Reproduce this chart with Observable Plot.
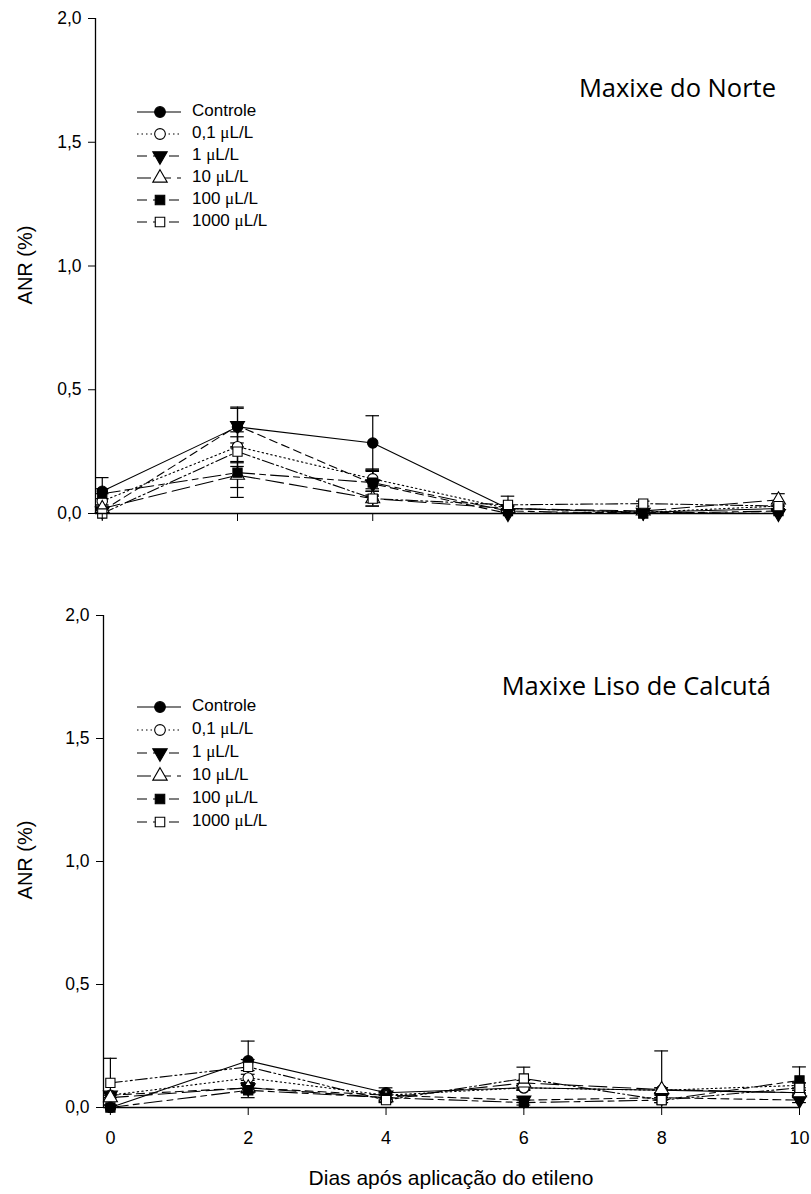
<!DOCTYPE html>
<html><head><meta charset="utf-8">
<script src="https://cdn.jsdelivr.net/npm/d3@7"></script>
<script src="https://cdn.jsdelivr.net/npm/@observablehq/plot@0.6"></script>
<style>
body{margin:0;background:#fff;}
#wrap{width:811px;height:1194px;overflow:hidden;}
#wrap svg{display:block;}
</style></head><body><div id="wrap"></div>
<script>
// ---- data ----
const days = [0, 2, 4, 6, 8, 10];
const seriesLabels = ["Controle", "0,1", "1", "10", "100", "1000"];
const yTicks = [0, 0.5, 1, 1.5, 2];
const xTicks = [0, 2, 4, 6, 8, 10];

// Maxixe do Norte
const norteControle = [0.09, 0.35, 0.285, 0.02, 0.005, 0.02];
const norte01       = [0.05, 0.27, 0.14, 0.02, 0.005, 0.03];
const norte1        = [0.01, 0.355, 0.12, 0.0, 0.005, 0.0];
const norte10       = [0.02, 0.155, 0.06, 0.02, 0.01, 0.055];
const norte100      = [0.08, 0.165, 0.125, 0.01, 0.0, 0.01];
const norte1000     = [0.0, 0.25, 0.06, 0.035, 0.04, 0.03];
const norteErrControle = [0.055, 0.08, 0.11, 0.01, 0.005, 0.01];
const norteErr01       = [0.03, 0.06, 0.04, 0.01, 0.005, 0.01];
const norteErr1        = [0.01, 0.07, 0.05, 0.01, 0.005, 0.01];
const norteErr10       = [0.01, 0.05, 0.03, 0.01, 0.005, 0.025];
const norteErr100      = [0.02, 0.1, 0.05, 0.01, 0.005, 0.01];
const norteErr1000     = [0.01, 0.06, 0.03, 0.035, 0.01, 0.01];

// Maxixe Liso de Calcutá
const lisoControle = [0.0, 0.19, 0.06, 0.08, 0.07, 0.06];
const liso01       = [0.05, 0.12, 0.05, 0.08, 0.07, 0.09];
const liso1        = [0.05, 0.08, 0.05, 0.03, 0.04, 0.03];
const liso10       = [0.04, 0.08, 0.04, 0.10, 0.073, 0.06];
const liso100      = [0.0, 0.07, 0.04, 0.02, 0.03, 0.11];
const liso1000     = [0.10, 0.165, 0.03, 0.118, 0.03, 0.08];
const lisoErrControle = [0.01, 0.08, 0.02, 0.01, 0.01, 0.01];
const lisoErr01       = [0.01, 0.03, 0.01, 0.01, 0.01, 0.01];
const lisoErr1        = [0.01, 0.02, 0.01, 0.01, 0.01, 0.01];
const lisoErr10       = [0.01, 0.02, 0.01, 0.01, 0.157, 0.01];
const lisoErr100      = [0.01, 0.03, 0.01, 0.01, 0.01, 0.055];
const lisoErr1000     = [0.10, 0.03, 0.01, 0.046, 0.01, 0.02];

// ---- styles ----
const triangleDown = {
  draw(context, size) {
    const y = -Math.sqrt(size / (Math.sqrt(3) * 3));
    context.moveTo(0, -2 * y);
    context.lineTo(-Math.sqrt(3) * y, y);
    context.lineTo(Math.sqrt(3) * y, y);
    context.closePath();
  }
};
const styles = [
  {symbol: "circle", fill: "black", dash: null, d3sym: d3.symbolCircle},
  {symbol: "circle", fill: "white", dash: "1.5,3", d3sym: d3.symbolCircle},
  {symbol: triangleDown, fill: "black", dash: "8,5", d3sym: triangleDown},
  {symbol: "triangle", fill: "white", dash: "18,6", d3sym: d3.symbolTriangle},
  {symbol: "square", fill: "black", dash: "18,5,6,5", d3sym: d3.symbolSquare},
  {symbol: "square", fill: "white", dash: "12,3,2,3,2,3", d3sym: d3.symbolSquare}
];

const FONT = "'Liberation Sans', Arial, sans-serif";
const fmt = d => d.toFixed(1).replace(".", ",");

function panel(o) {
  const marks = [];
  o.values.forEach((vals, i) => {
    const rows = days.map((d, j) => ({day: d, v: vals[j], e: o.errs[i][j]}));
    marks.push(Plot.line(rows, {x: "day", y: "v", stroke: "black", strokeWidth: 1.1,
      strokeDasharray: styles[i].dash || undefined}));
  });
  o.values.forEach((vals, i) => {
    const rows = days.map((d, j) => ({day: d, v: vals[j], e: o.errs[i][j]}));
    marks.push(Plot.ruleX(rows, {x: "day", y1: r => Math.max(0, r.v - r.e), y2: r => r.v + r.e, stroke: "black", strokeWidth: 1.2}));
    marks.push(Plot.ruleY(rows, {y: r => r.v + r.e, x1: r => r.day - 0.1, x2: r => r.day + 0.1, stroke: "black", strokeWidth: 1.2}));
    marks.push(Plot.ruleY(rows.filter(r => r.v - r.e > 0.003), {y: r => r.v - r.e, x1: r => r.day - 0.1, x2: r => r.day + 0.1, stroke: "black", strokeWidth: 1.2}));
  });
  o.values.forEach((vals, i) => {
    const rows = days.map((d, j) => ({day: d, v: vals[j]}));
    marks.push(Plot.dot(rows, {x: "day", y: "v", symbol: styles[i].symbol, r: 5.2,
      fill: styles[i].fill, stroke: "black", strokeWidth: 1.1}));
  });
  marks.push(Plot.ruleY([0], {stroke: "black", strokeWidth: 1.3}));
  marks.push(Plot.ruleX([o.xDomain[0]], {stroke: "black", strokeWidth: 1.3}));
  marks.push(Plot.axisY({ticks: yTicks, tickFormat: fmt, tickSize: 7, tickPadding: 7, label: null, fontSize: 17.5}));
  marks.push(Plot.axisX({ticks: xTicks, tickSize: 8, tickPadding: 16, label: null, fontSize: 18,
    tickFormat: o.xLabels ? (d => String(d)) : (() => "")}));

  const svg = Plot.plot({
    width: 811, height: o.height,
    marginTop: o.mt, marginBottom: o.mb, marginLeft: o.ml, marginRight: o.mr,
    x: {domain: o.xDomain},
    y: {domain: [0, 2]},
    style: {fontFamily: FONT, fontSize: "17px", color: "black", background: "white"},
    marks
  });

  const s = d3.select(svg);
  // y label
  s.append("text").attr("transform", `translate(${o.yLabelX},${o.yLabelY}) rotate(-90)`)
    .attr("text-anchor", "middle").attr("font-family", FONT).attr("font-size", 20)
    .attr("dominant-baseline", "middle").text("ANR (%)");
  // title
  s.append("text").attr("x", o.titleX).attr("y", o.titleY).attr("text-anchor", "end")
    .attr("font-family", "'Open Sans', Lato, sans-serif").attr("font-size", 25.5)
    .attr("dominant-baseline", "middle").text(o.title);
  // legend
  const lg = s.append("g").attr("text-anchor", "start");
  seriesLabels.forEach((lab, i) => {
    const y = o.legY + i * o.legStep;
    lg.append("line").attr("x1", 137).attr("x2", 181).attr("y1", y).attr("y2", y)
      .attr("stroke", "black").attr("stroke-width", 1.1)
      .attr("stroke-dasharray", i === 0 ? null : (i === 1 ? "1.5,3" : (i === 3 ? "14,6" : "10,6")));
    lg.append("path").attr("transform", `translate(160,${y})`)
      .attr("d", d3.symbol(styles[i].d3sym, 90)())
      .attr("fill", styles[i].fill).attr("stroke", "black").attr("stroke-width", 1.1);
    const t = lg.append("text").attr("x", 192).attr("y", y).attr("dominant-baseline", "middle")
      .attr("text-anchor", "start").attr("font-family", FONT).attr("font-size", 17);
    if (i === 0) t.text(lab);
    else {
      t.append("tspan").text(lab + " ");
      t.append("tspan").attr("font-family", "'Liberation Serif', serif").text("μ");
      t.append("tspan").text("L/L");
    }
  });
  if (o.xTitle) {
    s.append("text").attr("x", 451).attr("y", o.xTitleY).attr("text-anchor", "middle")
      .attr("font-family", FONT).attr("font-size", 21).attr("dominant-baseline", "middle")
      .text(o.xTitle);
  }
  return svg;
}

const wrap = document.getElementById("wrap");
wrap.appendChild(panel({
  values: [norteControle, norte01, norte1, norte10, norte100, norte1000],
  errs: [norteErrControle, norteErr01, norteErr1, norteErr10, norteErr100, norteErr1000],
  title: "Maxixe do Norte", titleX: 776, titleY: 90,
  height: 560, mt: 18, mb: 47, ml: 95, mr: 31, xDomain: [-0.1, 10.03],
  xLabels: false, yLabelX: 27, yLabelY: 265,
  legY: 112, legStep: 22
}));
wrap.appendChild(panel({
  values: [lisoControle, liso01, liso1, liso10, liso100, liso1000],
  errs: [lisoErrControle, lisoErr01, lisoErr1, lisoErr10, lisoErr100, lisoErr1000],
  title: "Maxixe Liso de Calcutá", titleX: 771, titleY: 128,
  height: 634, mt: 55, mb: 87, ml: 103, mr: 12, xDomain: [-0.1, 10],
  xLabels: true, yLabelX: 27, yLabelY: 300,
  legY: 147, legStep: 23,
  xTitle: "Dias após aplicação do etileno", xTitleY: 619
}));
</script>
</body></html>
